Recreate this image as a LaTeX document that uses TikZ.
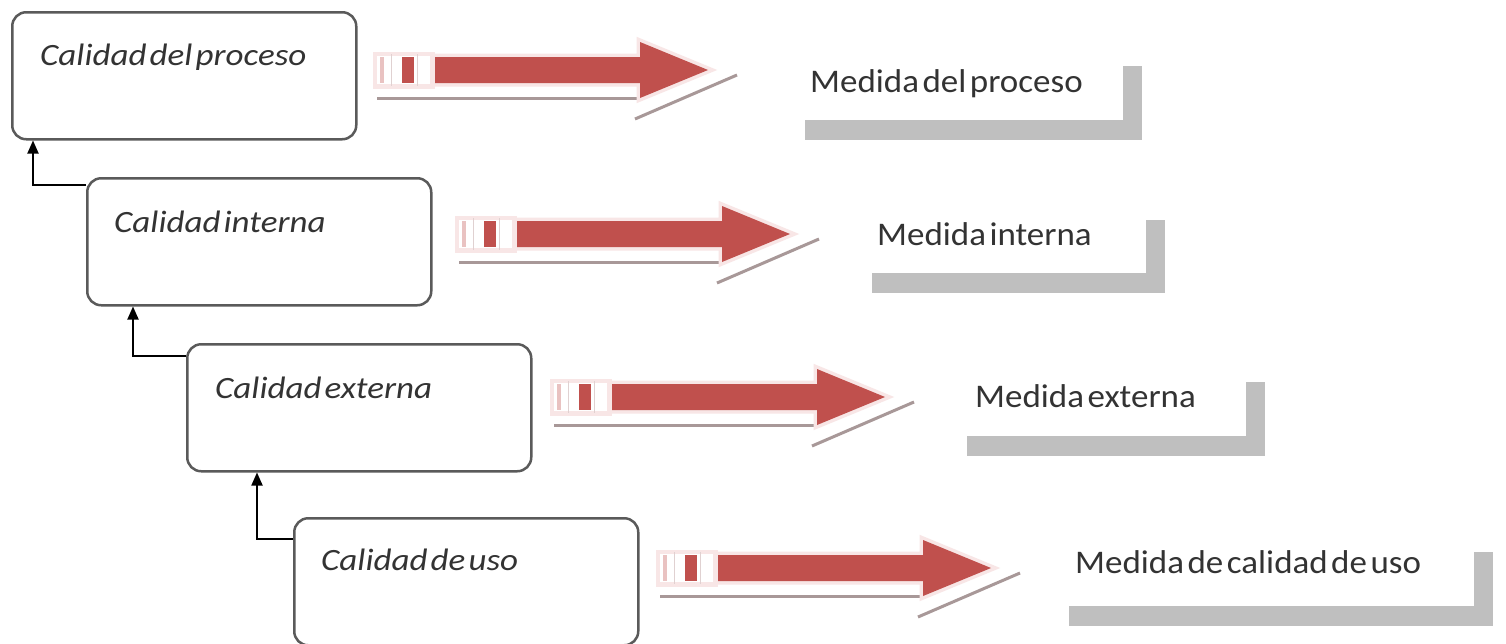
\documentclass[tikz,border=0pt]{standalone}
\usepackage{fontspec}
\setmainfont{Carlito}
\newfontfamily\qualfont[FakeStretch=1.13, WordSpace=0.4]{Carlito}
\newfontfamily\measfont[FakeStretch=1.06, WordSpace=0.45]{Carlito}
\usetikzlibrary{arrows.meta}
\definecolor{boxline}{HTML}{5A5A5A}
\definecolor{txt}{HTML}{333333}
\definecolor{arrred}{HTML}{C0504D}
\definecolor{glowpink}{HTML}{F8E6E6}
\definecolor{shadowgrey}{HTML}{A89898}
\definecolor{bargrey}{HTML}{BFBFBF}
\tikzset{
  qualbox/.style={draw=boxline, line width=2.5pt, rounded corners=14pt, fill=white,
    minimum width=344pt, minimum height=127pt, anchor=north west, inner sep=0pt},
  qualtext/.style={anchor=base west, inner sep=0pt, text=txt, font=\qualfont\fontsize{31}{31}\selectfont\itshape},
  meastext/.style={anchor=base west, inner sep=0pt, text=txt, font=\measfont\fontsize{33}{33}\selectfont},
  conn/.style={draw=black, line width=1.8pt, -{Triangle[length=13pt,width=11pt]}},
}
\newcommand\stripedarrow[2]{%
  \begin{scope}[shift={(#1,#2)}]
    % shadow
    \draw[draw=shadowgrey, line width=3pt] (-58,28) -- (205,28);
    \draw[draw=shadowgrey, line width=3pt] (200,49) -- (302,5);
    % glow
    \draw[draw=glowpink, line width=7pt, line join=miter] (0,-13) -- (205,-13) -- (205,-28) -- (273,0) -- (205,28) -- (205,13) -- (0,13) -- cycle;
    \draw[draw=glowpink, line width=5pt] (-60,-16) rectangle (-3,16);
    \fill[white] (-58,-14) rectangle (-5,14);
    \draw[draw=glowpink!80!gray, line width=0.8pt] (-44,-16) -- (-44,16) (-18,-16) -- (-18,16);
    % bars
    \fill[arrred!35!white] (-55,-13) rectangle (-51,13);
    \fill[arrred] (-33,-13) rectangle (-21,13);
    % arrow
    \fill[arrred] (0,-13) -- (205,-13) -- (205,-28) -- (273,0) -- (205,28) -- (205,13) -- (0,13) -- cycle;
  \end{scope}}
\newcommand\measure[4]{% left x of bar, right x, top y of vertical bar, top y of horizontal bar
  \fill[bargrey] (#1,#4) rectangle (#2,#4+20);
  \fill[bargrey] (#2-19,#3) rectangle (#2,#4+20);
}
\begin{document}
\begin{tikzpicture}[x=1pt,y=-1pt]
\useasboundingbox (0,0) rectangle (1506,643);
\fill[white] (0,0) rectangle (1506,643);

% quality boxes
\node[qualbox] (b1) at (11,11) {};
\node[qualbox] (b2) at (86,177) {};
\node[qualbox] (b3) at (186,343) {};
\node[qualbox] (b4) at (293,517) {};

\node[qualtext] (t1) at (40,65) {Calidad del proceso};
\node[qualtext] (t2) at (114,232) {Calidad interna};
\node[qualtext] (t3) at (215,398) {Calidad externa};
\node[qualtext] (t4) at (321,570) {Calidad de uso};

% connectors
\draw[conn] ([yshift=-8pt]b2.north west) -| ([xshift=22pt]b1.south west);
\draw[conn] ([yshift=-13pt]b3.north west) -| ([xshift=47pt]b2.south west);
\draw[conn] ([yshift=-22pt]b4.north west) -| ([xshift=71pt]b3.south west);

% striped arrows
\stripedarrow{435}{70}
\stripedarrow{517}{234}
\stripedarrow{612}{397}
\stripedarrow{718}{568}

% measures
\measure{805}{1142}{66}{120}
\node[meastext] (m1) at (810,92) {Medida del proceso};
\measure{872}{1165}{220}{273}
\node[meastext] (m2) at (877,245) {Medida interna};
\measure{967}{1265}{382}{436}
\node[meastext] (m3) at (975,407) {Medida externa};
\measure{1069}{1493}{552}{606}
\node[meastext] (m4) at (1075,573) {Medida de calidad de uso};
\end{tikzpicture}
\end{document}
